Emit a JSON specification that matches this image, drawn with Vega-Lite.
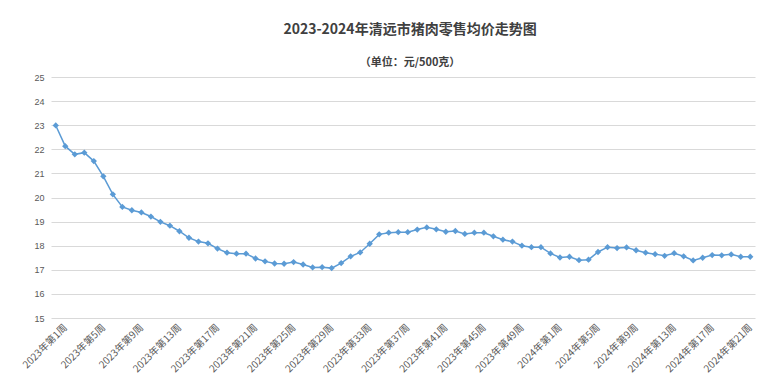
{
  "$schema": "https://vega.github.io/schema/vega-lite/v6.json",
  "autosize": "none",
  "width": 704,
  "height": 241,
  "padding": {"left": 51, "top": 77, "right": 24, "bottom": 66},
  "background": "white",
  "title": {
    "text": "2023-2024年清远市猪肉零售均价走势图",
    "subtitle": "（单位：元/500克）",
    "anchor": "middle",
    "dx": 7,
    "font": "Noto Sans CJK SC",
    "fontSize": 14,
    "fontWeight": "bold",
    "color": "#404040",
    "subtitleFont": "Noto Sans CJK SC",
    "subtitleFontSize": 11,
    "subtitleFontWeight": "bold",
    "subtitleColor": "#404040",
    "subtitlePadding": 20,
    "offset": 5
  },
  "data": {"values": [
    {"week": "2023年第1周", "price": 22.99},
    {"week": "2023年第2周", "price": 22.13},
    {"week": "2023年第3周", "price": 21.79},
    {"week": "2023年第4周", "price": 21.86},
    {"week": "2023年第5周", "price": 21.51},
    {"week": "2023年第6周", "price": 20.88},
    {"week": "2023年第7周", "price": 20.13},
    {"week": "2023年第8周", "price": 19.61},
    {"week": "2023年第9周", "price": 19.47},
    {"week": "2023年第10周", "price": 19.38},
    {"week": "2023年第11周", "price": 19.21},
    {"week": "2023年第12周", "price": 18.99},
    {"week": "2023年第13周", "price": 18.83},
    {"week": "2023年第14周", "price": 18.6},
    {"week": "2023年第15周", "price": 18.33},
    {"week": "2023年第16周", "price": 18.17},
    {"week": "2023年第17周", "price": 18.1},
    {"week": "2023年第18周", "price": 17.88},
    {"week": "2023年第19周", "price": 17.71},
    {"week": "2023年第20周", "price": 17.67},
    {"week": "2023年第21周", "price": 17.67},
    {"week": "2023年第22周", "price": 17.47},
    {"week": "2023年第23周", "price": 17.35},
    {"week": "2023年第24周", "price": 17.26},
    {"week": "2023年第25周", "price": 17.25},
    {"week": "2023年第26周", "price": 17.32},
    {"week": "2023年第27周", "price": 17.22},
    {"week": "2023年第28周", "price": 17.1},
    {"week": "2023年第29周", "price": 17.11},
    {"week": "2023年第30周", "price": 17.07},
    {"week": "2023年第31周", "price": 17.28},
    {"week": "2023年第32周", "price": 17.56},
    {"week": "2023年第33周", "price": 17.72},
    {"week": "2023年第34周", "price": 18.08},
    {"week": "2023年第35周", "price": 18.47},
    {"week": "2023年第36周", "price": 18.54},
    {"week": "2023年第37周", "price": 18.56},
    {"week": "2023年第38周", "price": 18.56},
    {"week": "2023年第39周", "price": 18.67},
    {"week": "2023年第40周", "price": 18.76},
    {"week": "2023年第41周", "price": 18.68},
    {"week": "2023年第42周", "price": 18.58},
    {"week": "2023年第43周", "price": 18.61},
    {"week": "2023年第44周", "price": 18.49},
    {"week": "2023年第45周", "price": 18.54},
    {"week": "2023年第46周", "price": 18.54},
    {"week": "2023年第47周", "price": 18.39},
    {"week": "2023年第48周", "price": 18.25},
    {"week": "2023年第49周", "price": 18.17},
    {"week": "2023年第50周", "price": 18.0},
    {"week": "2023年第51周", "price": 17.94},
    {"week": "2023年第52周", "price": 17.94},
    {"week": "2024年第1周", "price": 17.68},
    {"week": "2024年第2周", "price": 17.51},
    {"week": "2024年第3周", "price": 17.54},
    {"week": "2024年第4周", "price": 17.4},
    {"week": "2024年第5周", "price": 17.42},
    {"week": "2024年第6周", "price": 17.74},
    {"week": "2024年第7周", "price": 17.94},
    {"week": "2024年第8周", "price": 17.9},
    {"week": "2024年第9周", "price": 17.93},
    {"week": "2024年第10周", "price": 17.81},
    {"week": "2024年第11周", "price": 17.71},
    {"week": "2024年第12周", "price": 17.65},
    {"week": "2024年第13周", "price": 17.58},
    {"week": "2024年第14周", "price": 17.69},
    {"week": "2024年第15周", "price": 17.56},
    {"week": "2024年第16周", "price": 17.39},
    {"week": "2024年第17周", "price": 17.5},
    {"week": "2024年第18周", "price": 17.61},
    {"week": "2024年第19周", "price": 17.6},
    {"week": "2024年第20周", "price": 17.64},
    {"week": "2024年第21周", "price": 17.54},
    {"week": "2024年第22周", "price": 17.54}
  ]},
  "encoding": {
    "x": {
      "field": "week",
      "type": "ordinal",
      "sort": null,
      "scale": {"type": "point", "padding": 0.5},
      "axis": {
        "title": null,
        "values": ["2023年第1周", "2023年第5周", "2023年第9周", "2023年第13周", "2023年第17周", "2023年第21周", "2023年第25周", "2023年第29周", "2023年第33周", "2023年第37周", "2023年第41周", "2023年第45周", "2023年第49周", "2024年第1周", "2024年第5周", "2024年第9周", "2024年第13周", "2024年第17周", "2024年第21周"],
        "labelAngle": -45,
        "labelAlign": "right",
        "labelBaseline": "top",
        "labelOffset": 6,
        "labelPadding": 4,
        "labelFont": "Noto Sans CJK SC",
        "labelFontSize": 10,
        "labelColor": "#595959",
        "ticks": false,
        "domain": false,
        "grid": false
      }
    },
    "y": {
      "field": "price",
      "type": "quantitative",
      "scale": {"domain": [15, 25], "nice": false, "zero": false},
      "axis": {
        "title": null,
        "values": [15, 16, 17, 18, 19, 20, 21, 22, 23, 24, 25],
        "labelFont": "Liberation Sans",
        "labelFontSize": 9,
        "labelColor": "#595959",
        "labelPadding": 7,
        "ticks": false,
        "domain": false,
        "grid": true,
        "gridColor": "#d9d9d9",
        "gridWidth": 1
      }
    }
  },
  "layer": [
    {"mark": {"type": "line", "color": "#5b9bd5", "strokeWidth": 1.5}},
    {"mark": {"type": "point", "shape": "diamond", "filled": true, "color": "#5b9bd5", "opacity": 1, "size": 40}}
  ],
  "config": {"view": {"stroke": null}}
}
